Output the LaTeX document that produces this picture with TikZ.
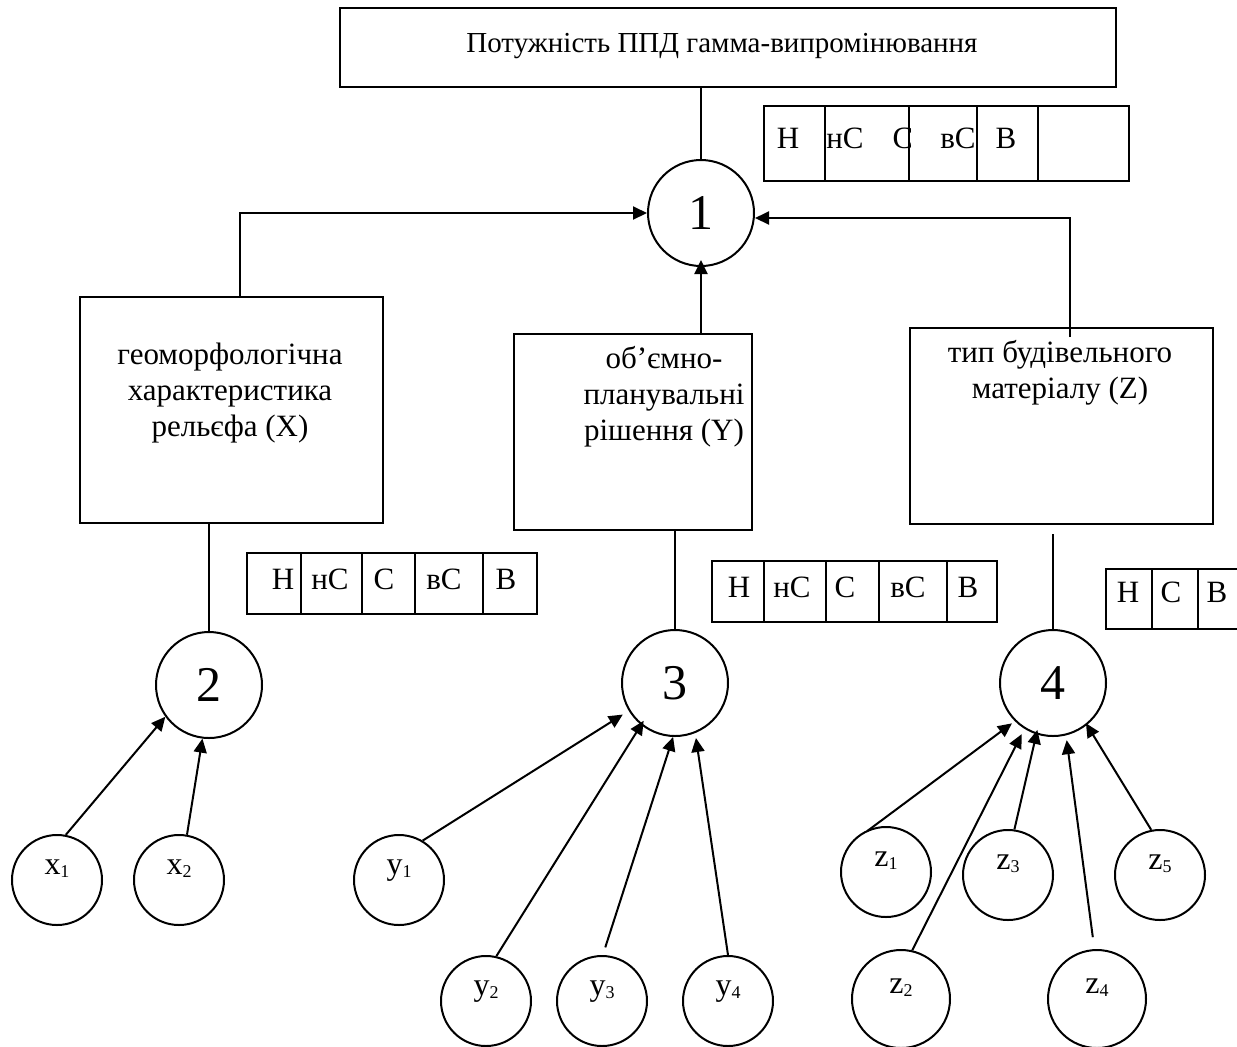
\documentclass[tikz,border=0pt]{standalone}
\usepackage{fontspec}
\setmainfont{Liberation Serif}
\usetikzlibrary{arrows.meta,fit,calc}
\begin{document}
\begin{tikzpicture}[x=0.5pt,y=-0.5pt,
  box/.style={draw,line width=1.2pt,inner sep=0pt},
  cell/.style={draw,line width=1.1pt,inner sep=0pt},
  txt/.style={inner sep=0pt,font=\fontsize{15.5}{18}\selectfont,align=center},
  celltxt/.style={inner sep=0pt,font=\fontsize{15.5}{18}\selectfont,anchor=base},
  bigc/.style={draw,circle,line width=1pt,minimum size=53pt,inner sep=0pt,font=\fontsize{25}{25}\selectfont},
  smallc/.style={draw,circle,line width=1pt,minimum size=45pt,inner sep=0pt},
  widec/.style={smallc,minimum size=49pt},
  lab/.style={inner sep=0pt,anchor=base,font=\fontsize{16}{16}\selectfont},
  link/.style={line width=1pt},
  arr/.style={line width=1pt,-{Triangle[length=7pt,width=6.5pt]}},
]
\useasboundingbox (0,0) rectangle (1237,1046);

% top box
\node[box,line width=1.3pt,fit={(340,8)(1116,87)}] (title) {};
\node[txt,font=\fontsize{14.5}{18}\selectfont,anchor=base] (titlet) at (722,52) {Потужність ППД гамма-випромінювання};

% main aggregation node
\node[bigc] (c1) at (701,213) {1};
\draw[link] (title.south -| c1.north) -- (c1.north);

% factor boxes
\node[box,fit={(80,297)(383,523)}] (bx) {};
\node[txt] (bxt) at (230,393) {геоморфологічна\\характеристика\\рельєфа (X)};
\node[box,fit={(514,334)(752,530)}] (by) {};
\node[txt] (byt) at (664,397) {об’ємно-\\планувальні\\рішення (Y)};
\node[box,fit={(910,328)(1213,524)}] (bz) {};
\node[txt] (bzt) at (1060,373) {тип будівельного\\матеріалу (Z)};

% links from factor boxes to node 1
\coordinate (lk) at (240,213);
\draw[arr] (bx.north -| lk) -- (lk) -- (c1.west);
\draw[arr,shorten >=-3.5pt] (by.north -| c1.south) -- (c1.south);
\coordinate (rk) at (1070,218);
\coordinate (rs) at (1070,337);
\draw[arr] (rs) -- (rk) -- (c1.east |- rk);

% second level nodes
\node[bigc] (c2) at (209,685) {2};
\node[bigc] (c3) at (675,683) {3};
\node[bigc] (c4) at (1053,683) {4};
\draw[link] (bx.south -| c2.north) -- (c2.north);
\draw[link] (by.south -| c3.north) -- (c3.north);
\draw[link,shorten <=4.5pt] (bz.south -| c4.north) -- (c4.north);

% scale tables
\foreach \n/\a/\b in {1/764/825,2/825/909,3/909/977,4/977/1038,5/1038/1129}
  \node[cell,fit={(\a,106)(\b,181)}] (ta\n) {};
\foreach \x/\t in {788/Н,845/нС,958/вС,1006/В}
  \node[celltxt] (tat\x) at (\x,148) {\t};
\begin{scope}
  \clip (ta2.south west) rectangle (ta2.north east);
  \node[celltxt] (tac) at (903,148) {С};
\end{scope}

\foreach \n/\a/\b in {1/247/301,2/301/362,3/362/415,4/415/483,5/483/537}
  \node[cell,fit={(\a,553)(\b,614)}] (tx\n) {};
\foreach \x/\t in {283/Н,330/нС,384/С,444/вС,506/В}
  \node[celltxt] (txt\x) at (\x,589) {\t};

\foreach \n/\a/\b in {1/712/764,2/764/826,3/826/879,4/879/947,5/947/997}
  \node[cell,fit={(\a,561)(\b,622)}] (ty\n) {};
\foreach \x/\t in {739/Н,792/нС,845/С,908/вС,968/В}
  \node[celltxt] (tyt\x) at (\x,597) {\t};

\foreach \n/\a/\b in {1/1106/1152,2/1152/1198,3/1198/1244}
  \node[cell,fit={(\a,569)(\b,629)}] (tz\n) {};
\foreach \x/\t in {1128/Н,1171/С,1217/В}
  \node[celltxt] (tzt\x) at (\x,602) {\t};

% indicator nodes
\newcommand\cirlab[3]{\node[lab] (#1t) at ($(#1)+(0,-6)$) {#2\raisebox{-1.5pt}{\fontsize{9}{9}\selectfont#3}};}
\node[smallc] (x1) at (57,880) {};
\node[smallc] (x2) at (179,880) {};
\node[smallc] (y1) at (399,880) {};
\node[smallc] (y2) at (486,1001) {};
\node[smallc] (y3) at (602,1001) {};
\node[smallc] (y4) at (728,1001) {};
\node[smallc] (z1) at (886,872) {};
\node[widec] (z2) at (901,999) {};
\node[smallc] (z3) at (1008,875) {};
\node[widec] (z4) at (1097,999) {};
\node[smallc] (z5) at (1160,875) {};
\cirlab{x1}{x}{1}
\cirlab{x2}{x}{2}
\cirlab{y1}{y}{1}
\cirlab{y2}{y}{2}
\cirlab{y3}{y}{3}
\cirlab{y4}{y}{4}
\cirlab{z1}{z}{1}
\cirlab{z2}{z}{2}
\cirlab{z3}{z}{3}
\cirlab{z4}{z}{4}
\cirlab{z5}{z}{5}

% indicator arrows
\draw[arr] (x1.79) -- (c2.216);
\draw[arr] (x2.80) -- (c2.263);
\draw[arr,shorten >=3.5pt] (y1.59) -- (c3.211);
\draw[arr,shorten >=-2.5pt] (y2.77) -- (c3.231);
\draw[arr,shorten <=4pt] (y3.89) -- (c3.268);
\draw[arr,shorten >=2.5pt] (y4.90) -- (c3.292);
\draw[arr,shorten <=-2pt,shorten >=1.8pt] (z1.110) -- (c4.225);
\draw[arr,shorten >=3pt] (z2.77) -- (c4.238);
\draw[arr,shorten >=-2.3pt] (z3.82) -- (c4.252);
\draw[arr,shorten <=6pt,shorten >=2.4pt] (z4.93) -- (c4.284);
\draw[arr,shorten >=-1pt] (z5.101) -- (c4.309);
\end{tikzpicture}
\end{document}
